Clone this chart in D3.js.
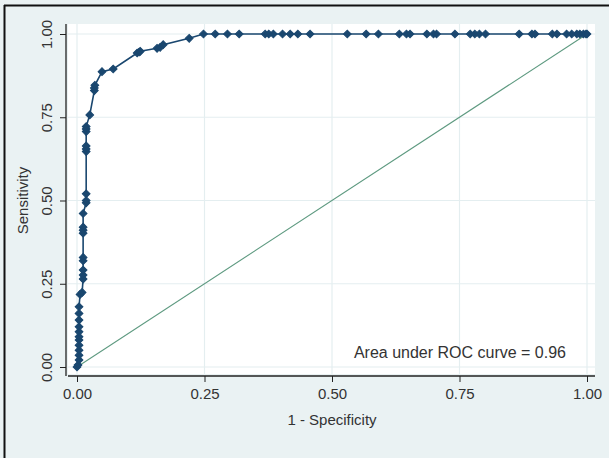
<!DOCTYPE html>
<html>
<head>
<meta charset="utf-8">
<script src="https://cdn.jsdelivr.net/npm/d3@7"></script>
<style>
  body { margin: 0; background: #fff; }
  text { font-family: "Liberation Sans", Arial, sans-serif; fill: #333; }
</style>
</head>
<body>
<svg id="chart"></svg>
<script>
// ROC points (1 - specificity, sensitivity)
var fpr = [0.000, 0.002, 0.004, 0.004, 0.004, 0.004, 0.004, 0.004, 0.004, 0.004,
           0.004, 0.004, 0.004, 0.006, 0.010, 0.012, 0.012, 0.012, 0.012, 0.012,
           0.012, 0.012, 0.012, 0.012, 0.018, 0.018, 0.018, 0.018, 0.018, 0.018,
           0.018, 0.018, 0.018, 0.025, 0.034, 0.034, 0.035, 0.049, 0.071, 0.118,
           0.122, 0.124, 0.157, 0.163, 0.169, 0.220, 0.248, 0.271, 0.295, 0.318,
           0.369, 0.376, 0.385, 0.403, 0.418, 0.433, 0.457, 0.530, 0.567, 0.591,
           0.632, 0.646, 0.653, 0.686, 0.699, 0.705, 0.741, 0.771, 0.780, 0.789,
           0.801, 0.867, 0.892, 0.898, 0.932, 0.941, 0.960, 0.970, 0.980, 0.986,
           0.993, 0.998, 1.000];
var tpr = [0.000, 0.006, 0.021, 0.035, 0.050, 0.065, 0.081, 0.091, 0.106, 0.121,
           0.141, 0.161, 0.181, 0.218, 0.224, 0.264, 0.276, 0.291, 0.319, 0.329,
           0.402, 0.411, 0.420, 0.461, 0.493, 0.500, 0.520, 0.647, 0.655, 0.664,
           0.707, 0.715, 0.722, 0.757, 0.830, 0.838, 0.846, 0.887, 0.895, 0.943,
           0.946, 0.948, 0.957, 0.960, 0.968, 0.987, 1, 1, 1, 1,
           1, 1, 1, 1, 1, 1, 1, 1, 1, 1,
           1, 1, 1, 1, 1, 1, 1, 1, 1, 1,
           1, 1, 1, 1, 1, 1, 1, 1, 1, 1,
           1, 1, 1];

var xTicks = [0, 0.25, 0.5, 0.75, 1];
var yTicks = [0, 0.25, 0.5, 0.75, 1];
var aucLabel = "Area under ROC curve = 0.96";
var xTitle = "1 - Specificity";
var yTitle = "Sensitivity";

var points = fpr.map(function(f, i) { return {x: f, y: tpr[i]}; });

var screen = {width: 609, height: 458};
var navy = "#1a476f";

var svg = d3.select("#chart")
    .attr("width", screen.width)
    .attr("height", screen.height);

// graph region background + frame on left / top
svg.append("rect")
    .attr("x", 0).attr("y", 0)
    .attr("width", screen.width).attr("height", screen.height)
    .attr("fill", "#eaf2f3");
svg.append("line")
    .attr("x1", 4.5).attr("x2", 4.5).attr("y1", 5).attr("y2", screen.height)
    .attr("stroke", "#111").attr("stroke-width", 2);
svg.append("line")
    .attr("x1", 4).attr("x2", screen.width).attr("y1", 5.5).attr("y2", 5.5)
    .attr("stroke", "#111").attr("stroke-width", 2);

// plot region
var plot = {left: 68, top: 24, right: 595, bottom: 374};
svg.append("rect")
    .attr("x", plot.left).attr("y", plot.top)
    .attr("width", plot.right - plot.left).attr("height", plot.bottom - plot.top)
    .attr("fill", "#fff");

var xScale = d3.scaleLinear().domain([0, 1]).range([77, 587]);
var yScale = d3.scaleLinear().domain([0, 1]).range([367, 34]);

// grid
svg.append("g").selectAll("line.gy")
    .data(yTicks).enter().append("line")
    .attr("x1", plot.left).attr("x2", plot.right)
    .attr("y1", function(d) { return yScale(d); })
    .attr("y2", function(d) { return yScale(d); })
    .attr("stroke", "#e4eef0").attr("stroke-width", 1.2);
svg.append("g").selectAll("line.gx")
    .data(xTicks).enter().append("line")
    .attr("y1", plot.top).attr("y2", plot.bottom)
    .attr("x1", function(d) { return xScale(d); })
    .attr("x2", function(d) { return xScale(d); })
    .attr("stroke", "#e4eef0").attr("stroke-width", 1.2);

// axes
var xAxis = svg.append("g")
    .attr("transform", "translate(0,376)")
    .call(d3.axisBottom(xScale).tickValues(xTicks).tickFormat(d3.format(".2f"))
        .tickSize(6).tickSizeOuter(0));
xAxis.select(".domain").remove();
xAxis.append("line")
    .attr("x1", plot.left).attr("x2", plot.right)
    .attr("stroke", "#222").attr("stroke-width", 1.3);
xAxis.selectAll(".tick line").attr("stroke", "#222");
xAxis.selectAll(".tick text")
    .attr("y", 12).attr("dy", "0.71em")
    .style("font-size", "15px").style("font-family", "Liberation Sans, Arial, sans-serif")
    .attr("fill", "#2a2a2a");

var yAxis = svg.append("g")
    .attr("transform", "translate(66,0)")
    .call(d3.axisLeft(yScale).tickValues(yTicks).tickFormat(d3.format(".2f"))
        .tickSize(6).tickSizeOuter(0));
yAxis.select(".domain").remove();
yAxis.append("line")
    .attr("y1", plot.top).attr("y2", plot.bottom + 2)
    .attr("stroke", "#222").attr("stroke-width", 1.3);
yAxis.selectAll(".tick line").attr("stroke", "#222");
yAxis.selectAll(".tick text")
    .attr("x", null).attr("dy", null)
    .attr("text-anchor", "middle")
    .attr("transform", "translate(-14,0) rotate(-90)")
    .style("font-size", "15px").style("font-family", "Liberation Sans, Arial, sans-serif")
    .attr("fill", "#2a2a2a");

// titles
svg.append("text")
    .attr("x", xScale(0.5)).attr("y", 425)
    .attr("text-anchor", "middle")
    .style("font-size", "15px")
    .attr("fill", "#2a2a2a")
    .text(xTitle);
svg.append("text")
    .attr("transform", "translate(28," + yScale(0.5) + ") rotate(-90)")
    .attr("text-anchor", "middle")
    .style("font-size", "15px")
    .attr("fill", "#2a2a2a")
    .text(yTitle);

// reference diagonal
svg.append("line")
    .attr("x1", xScale(0)).attr("y1", yScale(0))
    .attr("x2", xScale(1)).attr("y2", yScale(1))
    .attr("stroke", "#5e9a80").attr("stroke-width", 1.1);

// ROC curve
var line = d3.line()
    .x(function(p) { return xScale(p.x); })
    .y(function(p) { return yScale(p.y); });
svg.append("path")
    .datum(points)
    .attr("d", line)
    .attr("fill", "none")
    .attr("stroke", navy)
    .attr("stroke-width", 1.6);

var diamond = d3.symbol().type(d3.symbolSquare).size(30);
svg.append("g").selectAll("path")
    .data(points).enter().append("path")
    .attr("d", diamond)
    .attr("transform", function(p) {
        return "translate(" + xScale(p.x) + "," + yScale(p.y) + ") rotate(45)";
    })
    .attr("fill", navy)
    .attr("stroke", navy)
    .attr("stroke-width", 1);

// annotation
svg.append("text")
    .attr("x", 566).attr("y", 358)
    .attr("text-anchor", "end")
    .style("font-size", "16px")
    .attr("fill", "#222")
    .text(aucLabel);
</script>
</body>
</html>
